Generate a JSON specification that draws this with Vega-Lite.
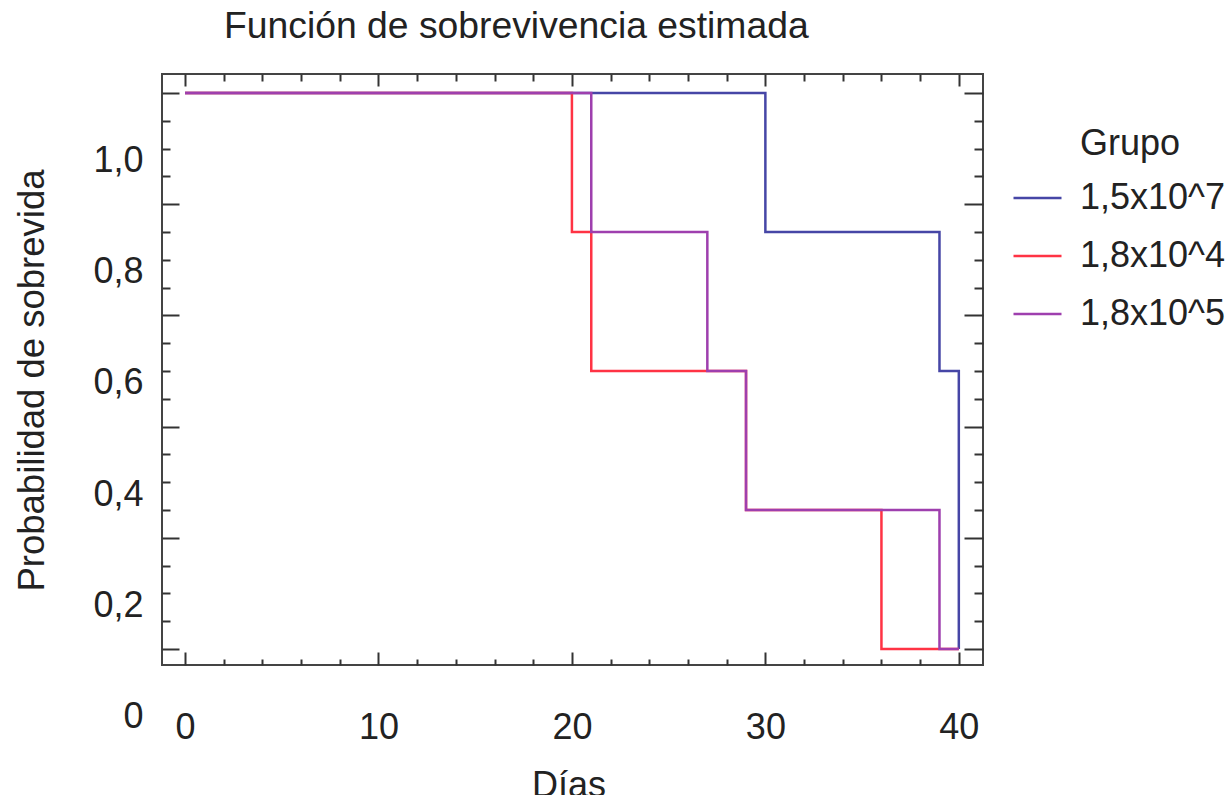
{
  "$schema": "https://vega.github.io/schema/vega-lite/v6.json",
  "width": 821,
  "height": 591,
  "autosize": {"type": "none"},
  "padding": {"left": 162, "top": 74, "right": 249, "bottom": 130},
  "config": {
    "font": "Liberation Sans",
    "view": {"stroke": "#444", "strokeWidth": 2},
    "axis": {"grid": false, "domain": false, "ticks": true, "tickColor": "#333", "tickWidth": 2, "tickCap": "butt", "labelColor": "#222", "titleColor": "#222", "labelFont": "Liberation Sans", "titleFont": "Liberation Sans"}
  },
  "title": {
    "text": "Función de sobrevivencia estimada",
    "anchor": "start",
    "frame": "group",
    "dx": 62,
    "offset": -2,
    "baseline": "alphabetic",
    "fontSize": 37.3,
    "fontWeight": "normal",
    "color": "#222",
    "font": "Liberation Sans"
  },
  "data": {
    "values": [
      {"grupo": "1,5x10^7", "dias": 0, "prob": 1.0},
      {"grupo": "1,5x10^7", "dias": 30, "prob": 0.8},
      {"grupo": "1,5x10^7", "dias": 39, "prob": 0.6},
      {"grupo": "1,5x10^7", "dias": 40, "prob": 0.2},
      {"grupo": "1,8x10^4", "dias": 0, "prob": 1.0},
      {"grupo": "1,8x10^4", "dias": 20, "prob": 0.8},
      {"grupo": "1,8x10^4", "dias": 21, "prob": 0.6},
      {"grupo": "1,8x10^4", "dias": 29, "prob": 0.4},
      {"grupo": "1,8x10^4", "dias": 36, "prob": 0.2},
      {"grupo": "1,8x10^4", "dias": 40, "prob": 0.2},
      {"grupo": "1,8x10^5", "dias": 0, "prob": 1.0},
      {"grupo": "1,8x10^5", "dias": 21, "prob": 0.8},
      {"grupo": "1,8x10^5", "dias": 27, "prob": 0.6},
      {"grupo": "1,8x10^5", "dias": 29, "prob": 0.4},
      {"grupo": "1,8x10^5", "dias": 39, "prob": 0.2},
      {"grupo": "1,8x10^5", "dias": 40, "prob": 0.2}
    ]
  },
  "layer": [
    {
      "mark": {"type": "line", "interpolate": "step-after", "strokeWidth": 2.5},
      "encoding": {
        "x": {
          "field": "dias",
          "type": "quantitative",
          "scale": {"domain": [-1.19, 41.25], "nice": false, "zero": false},
          "axis": {
            "orient": "bottom",
            "values": [0, 2, 4, 6, 8, 10, 12, 14, 16, 18, 20, 22, 24, 26, 28, 30, 32, 34, 36, 38, 40],
            "tickSize": -13,
            "tickDash": {"condition": {"test": "datum.value % 10 != 0", "value": [6, 100]}, "value": [100, 0]},
            "labelExpr": "datum.value % 10 == 0 ? datum.label : ''",
            "labelFontSize": 36,
            "labelPadding": 86,
            "labelBaseline": "alphabetic",
            "labelOverlap": false,
            "labelBound": false,
            "labelFlush": false,
            "title": "Días",
            "titleFontSize": 36,
            "titleFontWeight": "normal",
            "titleX": 406.5,
            "titleY": 131,
            "titleBaseline": "alphabetic",
            "titleAlign": "center"
          }
        },
        "y": {
          "field": "prob",
          "type": "quantitative",
          "scale": {"domain": [0.17698, 1.02734], "nice": false, "zero": false},
          "axis": {
            "orient": "left",
            "values": [0.2, 0.24, 0.28, 0.32, 0.36, 0.4, 0.44, 0.48, 0.52, 0.56, 0.6, 0.64, 0.68, 0.72, 0.76, 0.8, 0.84, 0.88, 0.92, 0.96, 1.0, 0.903, 0.743, 0.583, 0.423, 0.263],
            "tickSize": -17,
            "tickDash": {"condition": {"test": "indexof([0.2, 0.36, 0.52, 0.68, 0.84, 1], datum.value) < 0", "value": [8, 100]}, "value": [100, 0]},
            "tickOpacity": {"condition": {"test": "indexof([0.903, 0.743, 0.583, 0.423, 0.263], datum.value) >= 0", "value": 0}, "value": 1},
            "labelExpr": "datum.value == 0.903 ? '1,0' : datum.value == 0.743 ? '0,8' : datum.value == 0.583 ? '0,6' : datum.value == 0.423 ? '0,4' : datum.value == 0.263 ? '0,2' : ''",
            "labelFontSize": 36,
            "labelPadding": 36,
            "labelOverlap": false,
            "labelBound": false,
            "labelFlush": false,
            "title": "Probabilidad de sobrevida",
            "titleFontSize": 36.5,
            "titleFontWeight": "normal",
            "titleX": -119,
            "titleY": 306,
            "titleAngle": 270,
            "titleBaseline": "alphabetic",
            "titleAlign": "center"
          }
        },
        "color": {
          "field": "grupo",
          "type": "nominal",
          "scale": {"domain": ["1,5x10^7", "1,8x10^4", "1,8x10^5"], "range": ["#4646A6", "#FF3344", "#9E3FAE"]},
          "legend": {
            "orient": "none",
            "legendX": 850,
            "legendY": 52.5,
            "padding": 0,
            "title": "Grupo",
            "titleFont": "Liberation Sans",
            "titleFontSize": 36,
            "titleFontWeight": "normal",
            "titleColor": "#222",
            "titlePadding": 10,
            "labelFont": "Liberation Sans",
            "labelFontSize": 36,
            "labelColor": "#222",
            "labelOffset": 17,
            "symbolType": "stroke",
            "symbolSize": 2304,
            "symbolStrokeWidth": 2.5,
            "rowPadding": 14,
            "encode": {"title": {"update": {"dx": {"value": 68}}}}
          }
        }
      }
    },
    {
      "data": {"values": [{"etiqueta": "0"}]},
      "mark": {"type": "text", "align": "right", "baseline": "middle", "fontSize": 36, "color": "#222", "font": "Liberation Sans"},
      "encoding": {
        "x": {
          "datum": -2.145,
          "type": "quantitative",
          "scale": {"domain": [-1.19, 41.25], "nice": false, "zero": false},
          "axis": {
            "orient": "top",
            "values": [0, 2, 4, 6, 8, 10, 12, 14, 16, 18, 20, 22, 24, 26, 28, 30, 32, 34, 36, 38, 40],
            "tickSize": -12,
            "tickDash": {"condition": {"test": "datum.value % 10 != 0", "value": [7, 100]}, "value": [100, 0]},
            "labels": false,
            "title": null
          }
        },
        "y": {
          "datum": 0.1022,
          "type": "quantitative",
          "scale": {"domain": [0.17698, 1.02734], "nice": false, "zero": false},
          "axis": {
            "orient": "right",
            "values": [0.2, 0.24, 0.28, 0.32, 0.36, 0.4, 0.44, 0.48, 0.52, 0.56, 0.6, 0.64, 0.68, 0.72, 0.76, 0.8, 0.84, 0.88, 0.92, 0.96, 1.0],
            "tickSize": -19,
            "tickDash": {"condition": {"test": "indexof([0.2, 0.36, 0.52, 0.68, 0.84, 1], datum.value) < 0", "value": [9, 100]}, "value": [100, 0]},
            "labels": false,
            "title": null
          }
        },
        "text": {"field": "etiqueta"}
      }
    }
  ],
  "resolve": {"axis": {"x": "independent", "y": "independent"}}
}
